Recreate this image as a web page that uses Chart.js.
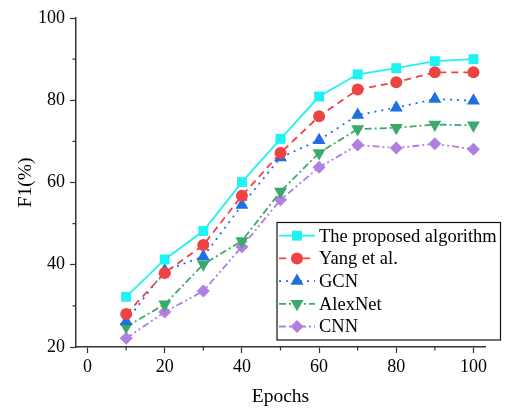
<!DOCTYPE html>
<html>
<head>
<meta charset="utf-8">
<script src="https://cdn.jsdelivr.net/npm/chart.js@4/dist/chart.umd.min.js"></script>
<style>
  html, body { margin: 0; padding: 0; background: #fff; }
  #wrap { width: 505px; height: 411px; }
</style>
</head>
<body>
<div id="wrap"><canvas id="c" width="505" height="411"></canvas></div>
<script>
// Training epochs
const epochs = [10, 20, 30, 40, 50, 60, 70, 80, 90, 100];

// F1 score (%) per method
const proposed = [32.2, 41.3, 48.2, 60.1, 70.6, 80.9, 86.3, 87.8, 89.5, 90.0];
const yang     = [28.0, 38.0, 44.8, 56.8, 67.2, 76.1, 82.6, 84.4, 86.8, 86.8];
const gcn      = [26.2, 38.6, 42.0, 54.5, 66.1, 70.3, 76.4, 78.2, 80.3, 79.9];
const alexnet  = [24.9, 30.4, 40.1, 45.8, 57.8, 67.2, 73.0, 73.3, 74.1, 73.9];
const cnn      = [22.1, 28.5, 33.6, 44.4, 55.8, 63.7, 69.1, 68.4, 69.4, 68.1];

const seriesNames = ['The proposed algorithm', 'Yang et al.', 'GCN', 'AlexNet', 'CNN'];

const xTicks = [0, 20, 40, 60, 80, 100];
const xMinorTicks = [10, 30, 50, 70, 90];
const yTicks = [20, 40, 60, 80, 100];
const yMinorTicks = [30, 50, 70, 90];

const SERIF = '"Liberation Serif", "Times New Roman", serif';

function pairs(vals) {
  return epochs.map((e, i) => ({ x: e, y: vals[i] }));
}

const styles = [
  { color: '#1ef2f2', point: 'rect',     radius: 7,   rot: 0,   dash: [] },
  { color: '#ef4343', point: 'circle',   radius: 6,   rot: 0,   dash: [7, 5] },
  { color: '#1e6fe0', point: 'triangle', radius: 7.5, rot: 0,   dash: [2, 5] },
  { color: '#3caa6a', point: 'triangle', radius: 7.5, rot: 180, dash: [7, 3, 2, 3] },
  { color: '#b07fe0', point: 'rectRot',  radius: 6.5, rot: 0,   dash: [7, 3, 2, 3, 2, 3] }
];

const seriesValues = [proposed, yang, gcn, alexnet, cnn];

const datasets = seriesValues.map((vals, i) => ({
  label: seriesNames[i],
  data: pairs(vals),
  borderColor: styles[i].color,
  backgroundColor: styles[i].color,
  borderWidth: 1.8,
  borderDash: styles[i].dash,
  pointStyle: styles[i].point,
  pointRotation: styles[i].rot,
  pointRadius: styles[i].radius,
  pointBorderWidth: 0,
  pointBackgroundColor: styles[i].color,
  tension: 0,
  fill: false
}));

// Short minor ticks on both axes
const minorTicks = {
  id: 'minorTicks',
  afterDraw(chart) {
    const { ctx, scales } = chart;
    const xs = scales.x, ys = scales.y;
    ctx.save();
    ctx.strokeStyle = '#333';
    ctx.lineWidth = 1.2;
    ctx.beginPath();
    xMinorTicks.forEach(v => {
      const px = xs.getPixelForValue(v);
      ctx.moveTo(px, xs.top);
      ctx.lineTo(px, xs.top + 3.5);
    });
    yMinorTicks.forEach(v => {
      const py = ys.getPixelForValue(v);
      ctx.moveTo(ys.right, py);
      ctx.lineTo(ys.right - 3.5, py);
    });
    ctx.stroke();
    ctx.restore();
  }
};

// Boxed legend showing each series' line style and marker
const boxLegend = {
  id: 'boxLegend',
  afterDraw(chart) {
    const { ctx } = chart;
    const left = 277, top = 222.5, w = 223.5, h = 117.5;
    const rowH = 22.7, firstRow = 235.7;
    ctx.save();
    ctx.fillStyle = '#fff';
    ctx.fillRect(left, top, w, h);
    ctx.strokeStyle = '#111';
    ctx.lineWidth = 1.2;
    ctx.strokeRect(left, top, w, h);
    chart.data.datasets.forEach((ds, i) => {
      const y = firstRow + i * rowH;
      ctx.save();
      ctx.strokeStyle = ds.borderColor;
      ctx.lineWidth = ds.borderWidth;
      ctx.setLineDash(ds.borderDash);
      ctx.beginPath();
      ctx.moveTo(left + 2, y);
      ctx.lineTo(left + 38, y);
      ctx.stroke();
      ctx.restore();
      ctx.save();
      ctx.fillStyle = ds.pointBackgroundColor;
      ctx.strokeStyle = ds.pointBackgroundColor;
      Chart.helpers.drawPoint(ctx, {
        pointStyle: ds.pointStyle,
        rotation: ds.pointRotation,
        radius: ds.pointRadius,
        borderWidth: 0
      }, left + 20, y);
      ctx.restore();
      ctx.fillStyle = '#000';
      ctx.font = '18.5px ' + SERIF;
      ctx.textBaseline = 'middle';
      ctx.textAlign = 'left';
      ctx.fillText(ds.label, left + 42, y + 1);
    });
    ctx.restore();
  }
};

new Chart(document.getElementById('c'), {
  type: 'line',
  data: { datasets },
  plugins: [minorTicks, boxLegend],
  options: {
    responsive: false,
    animation: false,
    devicePixelRatio: 1,
    layout: { padding: { left: 0, right: 20, top: 18, bottom: 0 } },
    plugins: {
      legend: { display: false },
      tooltip: { enabled: false }
    },
    scales: {
      x: {
        type: 'linear',
        min: -3,
        max: 103,
        afterBuildTicks(scale) { scale.ticks = xTicks.map(v => ({ value: v })); },
        afterFit(scale) { scale.height = 64; },
        ticks: {
          color: '#000',
          font: { family: SERIF, size: 18 },
          padding: 3,
          maxRotation: 0
        },
        grid: {
          drawOnChartArea: false,
          drawTicks: true,
          tickLength: 6,
          tickColor: '#333',
          tickWidth: 1.2
        },
        border: { display: true, color: '#333', width: 1.5 },
        title: {
          display: true,
          text: 'Epochs',
          color: '#000',
          font: { family: SERIF, size: 19.5 },
          padding: { top: 0, bottom: 2 }
        }
      },
      y: {
        type: 'linear',
        min: 20,
        max: 100,
        afterBuildTicks(scale) { scale.ticks = yTicks.map(v => ({ value: v })); },
        afterFit(scale) { scale.width = 76; },
        ticks: {
          color: '#000',
          font: { family: SERIF, size: 18 },
          padding: 5
        },
        grid: {
          drawOnChartArea: false,
          drawTicks: true,
          tickLength: 6,
          tickColor: '#333',
          tickWidth: 1.2
        },
        border: { display: true, color: '#333', width: 1.5 },
        title: {
          display: true,
          text: 'F1(%)',
          color: '#000',
          font: { family: SERIF, size: 19.5 },
          padding: { top: 14, bottom: 0 }
        }
      }
    }
  }
});
</script>
</body>
</html>
